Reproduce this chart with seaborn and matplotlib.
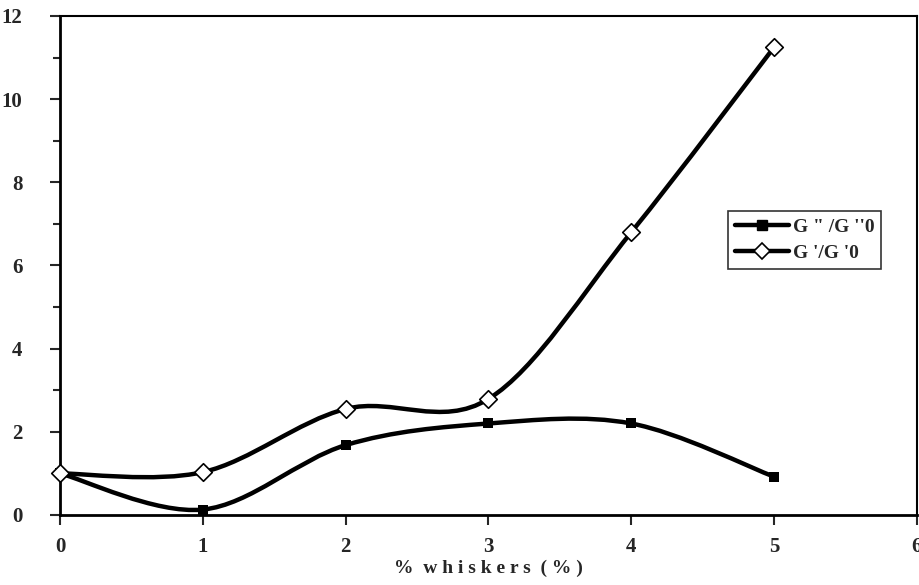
import numpy as np
import pandas as pd
import matplotlib
matplotlib.use("Agg")
import matplotlib.pyplot as plt
import seaborn as sns
from matplotlib.path import Path
from matplotlib.patches import PathPatch
from matplotlib.lines import Line2D
from matplotlib.ticker import MultipleLocator

# data
whiskers = [0, 1, 2, 3, 4, 5]
g2_ratio = [1.0, 0.13, 1.68, 2.2, 2.2, 0.92]    # G''/G''0
g1_ratio = [1.0, 1.03, 2.55, 2.79, 6.8, 11.25]  # G'/G'0

sns.set_style("ticks")
plt.rcParams['font.family'] = ['Liberation Serif', 'DejaVu Serif']
plt.rcParams['font.weight'] = 'bold'


def smooth_path(x, y):
    # Excel style smoothed line: cubic bezier through every point
    pts = np.column_stack([x, y]).astype(float)
    n = len(pts)
    verts = [pts[0]]
    codes = [Path.MOVETO]
    for i in range(n - 1):
        p0 = pts[i - 1] if i > 0 else pts[i]
        p1 = pts[i]
        p2 = pts[i + 1]
        p3 = pts[i + 2] if i + 2 < n else pts[i + 1]
        c1 = p1 + (p2 - p0) / 6.0
        c2 = p2 - (p3 - p1) / 6.0
        verts += [c1, c2, p2]
        codes += [Path.CURVE4] * 3
    return Path(verts, codes)


fig = plt.figure(figsize=(9.2, 5.85), dpi=100)
ax = fig.add_axes([0.0652, 0.1197, 0.9315, 0.853])

for yy in [g2_ratio, g1_ratio]:
    ax.add_patch(PathPatch(smooth_path(whiskers, yy), facecolor='none',
                           edgecolor='black', lw=3.2, capstyle='round', zorder=2))

df = pd.DataFrame({'x': whiskers, 'g2': g2_ratio, 'g1': g1_ratio})
sns.scatterplot(data=df, x='x', y='g2', marker='s', s=55, color='black',
                edgecolor='black', linewidth=0, ax=ax, zorder=3, legend=False,
                clip_on=False)
sns.scatterplot(data=df, x='x', y='g1', marker='D', s=80, color='white',
                edgecolor='black', linewidth=1.2, ax=ax, zorder=3, legend=False,
                clip_on=False)

ax.set_xlim(0, 6)
ax.set_ylim(0, 12)
ax.xaxis.set_major_locator(MultipleLocator(1))
ax.yaxis.set_major_locator(MultipleLocator(2))
ax.yaxis.set_minor_locator(MultipleLocator(1))
ax.tick_params(axis='both', which='both', direction='out', width=1.5, labelsize=15)
ax.tick_params(axis='x', which='major', length=7, pad=9)
ax.tick_params(axis='y', which='major', length=7, pad=20)
ax.tick_params(axis='y', which='minor', length=5)
for side in ['left', 'right', 'top', 'bottom']:
    ax.spines[side].set_visible(True)
    ax.spines[side].set_color('black')
ax.spines['left'].set_linewidth(2)
ax.spines['bottom'].set_linewidth(2)
ax.spines['right'].set_linewidth(1.5)
ax.spines['top'].set_linewidth(1.5)

ax.set_xlabel('%  w h i s k e r s  ( % )', fontsize=14, fontweight='bold', labelpad=2)
ax.set_ylabel('')

handles = [
    Line2D([], [], color='black', lw=3.2, marker='s', markersize=7,
           markerfacecolor='black'),
    Line2D([], [], color='black', lw=3.2, marker='D', markersize=8,
           markerfacecolor='white', markeredgewidth=1.2),
]
leg = ax.legend(handles, ['G " /G \'\'0', 'G \'/G \'0'], loc='upper left',
                bbox_to_anchor=(0.768, 0.628), frameon=True, fancybox=False,
                fontsize=14, handlelength=2.8, borderpad=0.35, labelspacing=0.45,
                handletextpad=0.2)
leg.get_frame().set_edgecolor('black')
leg.get_frame().set_linewidth(1.2)

fig.savefig('out.png', dpi=100)
